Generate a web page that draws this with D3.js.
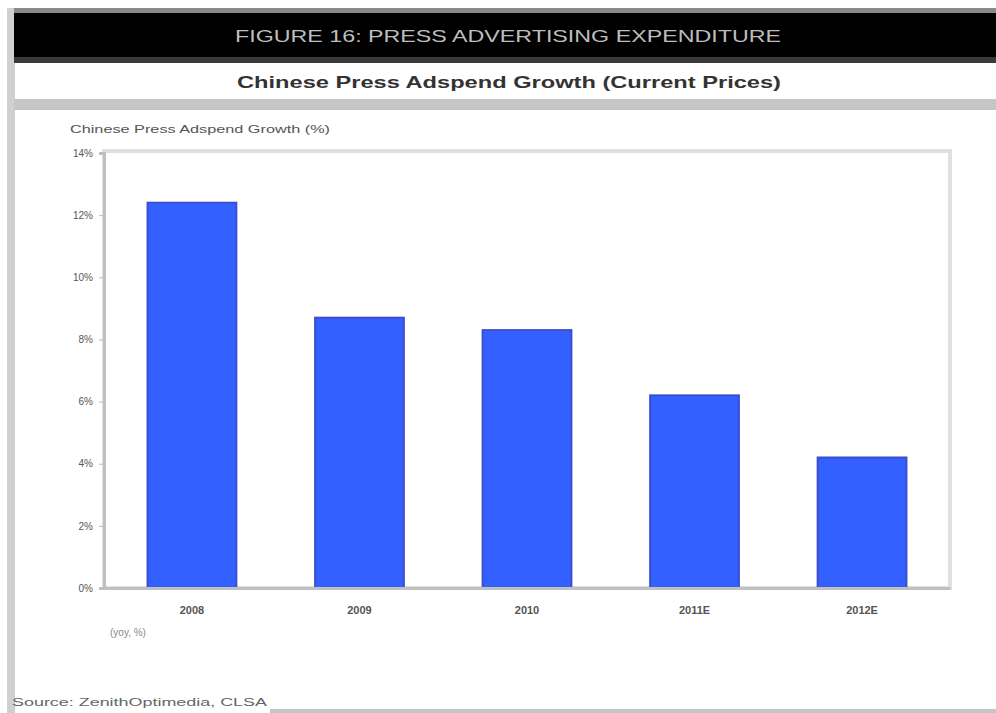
<!DOCTYPE html>
<html><head><meta charset="utf-8">
<script src="https://cdn.jsdelivr.net/npm/d3@7"></script>
<style>body{margin:0;background:#fff}svg{display:block}</style>
</head><body>
<svg id="c" width="996" height="713"></svg>
<script>
const title = "FIGURE 16: PRESS ADVERTISING EXPENDITURE";
const subtitle = "Chinese Press Adspend Growth (Current Prices)";
const yLabel = "Chinese Press Adspend Growth (%)";
const categories = ["2008", "2009", "2010", "2011E", "2012E"];
const values = [12.4, 8.7, 8.3, 6.2, 4.2];
const yTicks = [0, 2, 4, 6, 8, 10, 12, 14];
const note = "(yoy, %)";
const source = "Source: ZenithOptimedia, CLSA";

const svg = d3.select("#c");
const font = "Arial, 'Liberation Sans', sans-serif";

// frame
svg.append("rect").attr("x",7).attr("y",8).attr("width",8).attr("height",705).attr("fill","#d0d0d0");
svg.append("rect").attr("x",14).attr("y",8).attr("width",982).attr("height",6).attr("fill","#8a8a8a");
svg.append("rect").attr("x",14).attr("y",13).attr("width",982).attr("height",44).attr("fill","#000");
svg.append("rect").attr("x",14).attr("y",57).attr("width",982).attr("height",6).attr("fill","#3a3a3a");
svg.append("rect").attr("x",14).attr("y",99).attr("width",982).attr("height",11).attr("fill","#c6c6c6");
svg.append("rect").attr("x",270).attr("y",709).attr("width",726).attr("height",4).attr("fill","#c6c6c6");

svg.append("text").attr("x",508).attr("y",42).attr("text-anchor","middle")
  .attr("font-family",font).attr("font-size",17).attr("fill","#bdbdbd")
  .attr("textLength",546).attr("lengthAdjust","spacingAndGlyphs").text(title);
svg.append("text").attr("x",509).attr("y",88).attr("text-anchor","middle")
  .attr("font-family",font).attr("font-size",17).attr("font-weight","bold").attr("fill","#333")
  .attr("textLength",544).attr("lengthAdjust","spacingAndGlyphs").text(subtitle);
svg.append("text").attr("x",70).attr("y",133)
  .attr("font-family",font).attr("font-size",11).attr("fill","#555")
  .attr("textLength",260).attr("lengthAdjust","spacingAndGlyphs").text(yLabel);

const m = {left:104, right:950, top:153, bottom:588};
const x = d3.scaleBand().domain(categories).range([m.left, m.right]).paddingInner(0.47).paddingOuter(0.26);
const y = d3.scaleLinear().domain([0,14]).range([m.bottom, m.top]);

// plot frame
svg.append("rect").attr("x",m.left).attr("y",m.top-2).attr("width",m.right-m.left).attr("height",m.bottom-m.top+2)
  .attr("fill","#fff").attr("stroke","#e0e0e0").attr("stroke-width",4);

// bars
svg.append("g").selectAll("rect").data(values).join("rect")
  .attr("x",(d,i)=>x(categories[i])).attr("y",d=>y(d))
  .attr("width",x.bandwidth()).attr("height",d=>y(0)-y(d))
  .attr("fill","#3460ff").attr("stroke","#3a4fd0").attr("stroke-width",2);

// y axis
const ya = svg.append("g").attr("transform",`translate(${m.left},0)`)
  .call(d3.axisLeft(y).tickValues(yTicks).tickFormat(d=>d+"%").tickSize(5).tickPadding(6));
ya.select(".domain").attr("stroke","#c0c0c0").attr("stroke-width",3);
ya.selectAll(".tick line").attr("stroke","#bbb");
ya.selectAll(".tick text").attr("font-family",font).attr("font-size",10).attr("fill","#555");

// x axis
const xa = svg.append("g").attr("transform",`translate(0,${m.bottom})`)
  .call(d3.axisBottom(x).tickSize(0).tickPadding(18));
xa.select(".domain").attr("stroke","#c0c0c0").attr("stroke-width",3);
xa.selectAll(".tick text").attr("font-family",font).attr("font-size",11).attr("font-weight","bold").attr("fill","#555");

svg.append("text").attr("x",110).attr("y",636)
  .attr("font-family",font).attr("font-size",10).attr("fill","#888").text(note);
svg.append("text").attr("x",12).attr("y",706)
  .attr("font-family",font).attr("font-size",10).attr("fill","#666")
  .attr("textLength",255).attr("lengthAdjust","spacingAndGlyphs").text(source);
</script>
</body></html>
